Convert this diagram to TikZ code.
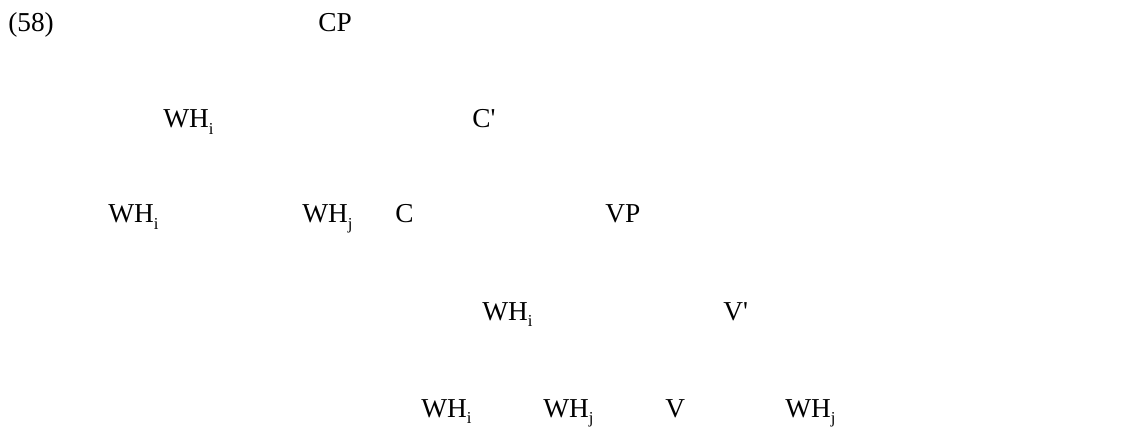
\documentclass[tikz,border=0pt]{standalone}
\usepackage{fontspec}
\setmainfont{Liberation Serif}
\usetikzlibrary{positioning}
\newcommand{\idx}[1]{\raisebox{-0.25em}{\fontsize{12.5}{13}\selectfont #1}}

\begin{document}
\begin{tikzpicture}[
  x=0.75pt, y=-0.75pt,
  lab/.style={anchor=base west, inner sep=0pt, font=\fontsize{20.5}{25}\selectfont}
]
  \useasboundingbox (0,0) rectangle (1126,427);

  % example number
  \node[lab] (num) at (8,32) {(58)};

  % top
  \node[lab] (cp) at (318,32) {CP};

  % spec and bar level
  \node[lab] (whspec) at (163,128) {WH\idx{i}};
  \node[lab] (cbar) at (472,128) {C\textquotesingle};

  % head C and its neighbours
  \node[lab] (whia) at (108,223) {WH\idx{i}};
  \node[lab] (whja) at (302,223) {WH\idx{j}};
  \node[lab] (chead) at (395,223) {C};
  \node[lab] (vp) at (605,223) {VP};

  % VP level
  \node[lab] (whib) at (482,320) {WH\idx{i}};
  \node[lab] (vbar) at (723,320) {V\textquotesingle};

  % bottom row
  \node[lab] (whic) at (421,417) {WH\idx{i}};
  \node[lab] (whjb) at (543,417) {WH\idx{j}};
  \node[lab] (vhead) at (665,417) {V};
  \node[lab] (whjc) at (785,417) {WH\idx{j}};
\end{tikzpicture}
\end{document}
